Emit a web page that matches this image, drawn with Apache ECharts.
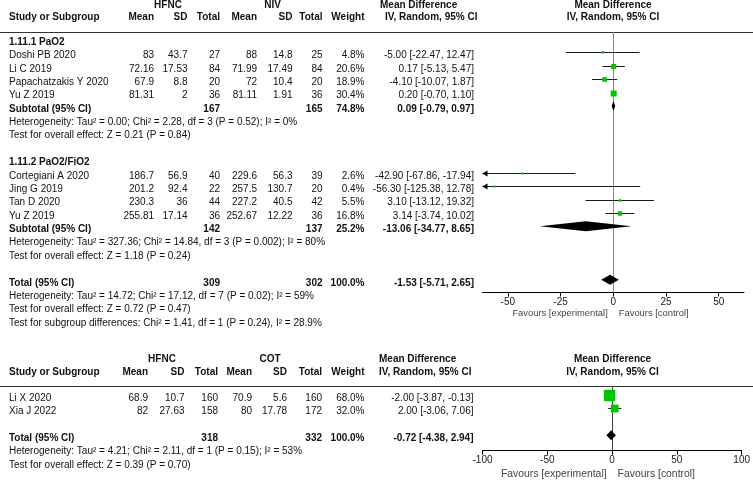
<!DOCTYPE html>
<html><head><meta charset="utf-8">
<script src="https://cdn.jsdelivr.net/npm/echarts@6/dist/echarts.min.js"></script>
<style>html,body{margin:0;padding:0;background:#fff}#c{width:753px;height:480px}</style>
</head><body><div id="c"></div><script>
// ================= DATA =================
// --- Comparison 1: HFNC vs NIV ---
const cmp1Groups = ['HFNC', 'NIV'];
const g1Title = '1.11.1 PaO2';
const g1Studies = ['Doshi PB 2020', 'Li C 2019', 'Papachatzakis Y 2020', 'Yu Z 2019'];
const g1MeanE = [83, 72.16, 67.9, 81.31];
const g1SdE   = [43.7, 17.53, 8.8, 2];
const g1TotE  = [27, 84, 20, 36];
const g1MeanC = [88, 71.99, 72, 81.11];
const g1SdC   = [14.8, 17.49, 10.4, 1.91];
const g1TotC  = [25, 84, 20, 36];
const g1Weight = [4.8, 20.6, 18.9, 30.4];
const g1MD = [-5.00, 0.17, -4.10, 0.20];
const g1Lo = [-22.47, -5.13, -10.07, -0.70];
const g1Hi = [12.47, 5.47, 1.87, 1.10];
const g1Sub = [0.09, -0.79, 0.97];       // md, lo, hi
const g1SubTot = [167, 165];
const g1SubWeight = 74.8;
const g1Het = 'Heterogeneity: Tau² = 0.00; Chi² = 2.28, df = 3 (P = 0.52); I² = 0%';
const g1Test = 'Test for overall effect: Z = 0.21 (P = 0.84)';

const g2Title = '1.11.2 PaO2/FiO2';
const g2Studies = ['Cortegiani A 2020', 'Jing G 2019', 'Tan D 2020', 'Yu Z 2019'];
const g2MeanE = [186.7, 201.2, 230.3, 255.81];
const g2SdE   = [56.9, 92.4, 36, 17.14];
const g2TotE  = [40, 22, 44, 36];
const g2MeanC = [229.6, 257.5, 227.2, 252.67];
const g2SdC   = [56.3, 130.7, 40.5, 12.22];
const g2TotC  = [39, 20, 42, 36];
const g2Weight = [2.6, 0.4, 5.5, 16.8];
const g2MD = [-42.90, -56.30, 3.10, 3.14];
const g2Lo = [-67.86, -125.38, -13.12, -3.74];
const g2Hi = [-17.94, 12.78, 19.32, 10.02];
const g2Sub = [-13.06, -34.77, 8.65];
const g2SubTot = [142, 137];
const g2SubWeight = 25.2;
const g2Het = 'Heterogeneity: Tau² = 327.36; Chi² = 14.84, df = 3 (P = 0.002); I² = 80%';
const g2Test = 'Test for overall effect: Z = 1.18 (P = 0.24)';

const c1Total = [-1.53, -5.71, 2.65];
const c1TotalN = [309, 302];
const c1TotalWeight = 100.0;
const c1Het = 'Heterogeneity: Tau² = 14.72; Chi² = 17.12, df = 7 (P = 0.02); I² = 59%';
const c1Test = 'Test for overall effect: Z = 0.72 (P = 0.47)';
const c1SubDiff = 'Test for subgroup differences: Chi² = 1.41, df = 1 (P = 0.24), I² = 28.9%';
const c1Ticks = [-50, -25, 0, 25, 50];

// --- Comparison 2: HFNC vs COT ---
const cmp2Groups = ['HFNC', 'COT'];
const b1Studies = ['Li X 2020', 'Xia J 2022'];
const b1MeanE = [68.9, 82];
const b1SdE   = [10.7, 27.63];
const b1TotE  = [160, 158];
const b1MeanC = [70.9, 80];
const b1SdC   = [5.6, 17.78];
const b1TotC  = [160, 172];
const b1Weight = [68.0, 32.0];
const b1MD = [-2.00, 2.00];
const b1Lo = [-3.87, -3.06];
const b1Hi = [-0.13, 7.06];
const c2Total = [-0.72, -4.38, 2.94];
const c2TotalN = [318, 332];
const c2TotalWeight = 100.0;
const c2Het = 'Heterogeneity: Tau² = 4.21; Chi² = 2.11, df = 1 (P = 0.15); I² = 53%';
const c2Test = 'Test for overall effect: Z = 0.39 (P = 0.70)';
const c2Ticks = [-100, -50, 0, 50, 100];

const colHeads = ['Mean', 'SD', 'Total', 'Mean', 'SD', 'Total', 'Weight'];
const mdHead1 = 'Mean Difference';
const mdHead2 = 'IV, Random, 95% CI';
const favours = ['Favours [experimental]', 'Favours [control]'];

// ================= LAYOUT / STYLE =================
const FONT = '"Liberation Sans", Arial, Helvetica, sans-serif';
const TXT = '#111';
const GREEN = '#00c800';
const L1 = { gridTop: 32, gridH: 260.5, left: 482.5, width: 261.5, xMin: -62, xMax: 62, first: 7, rowH: 13.38,
  cols: [154, 187.5, 220, 257, 292.5, 322.5, 364.5], mdX: 474, grpX: [168, 272.5],
  head1Y: 5, head2Y: 17.5, mdHeadX: [380, 385], plotHeadX: 613, sq: 1.09, favY: 313.5, favSize: 9.4, tickSize: 10 };
const L2 = { gridTop: 386, gridH: 64.7, left: 482.5, width: 260, xMin: -100, xMax: 100, first: 9, rowH: 13.4,
  cols: [148, 184.5, 218, 252, 287, 322, 364.5], mdX: 473.5, grpX: [162, 270],
  head1Y: 359, head2Y: 372, mdHeadX: [379, 379], plotHeadX: 612.5, sq: 1.38, favY: 474, favSize: 10.4, tickSize: 10 };

// ---- build row structures (row index = order in table) ----
function studyRows(names, mE, sE, tE, mC, sC, tC, w, md, lo, hi) {
  return names.map((n, i) => ({ kind: 'study', name: n, cells: [mE[i], sE[i], tE[i], mC[i], sC[i], tC[i]], w: w[i], eff: [md[i], lo[i], hi[i]] }));
}
const rows1 = [].concat(
  [{ kind: 'title', text: g1Title }],
  studyRows(g1Studies, g1MeanE, g1SdE, g1TotE, g1MeanC, g1SdC, g1TotC, g1Weight, g1MD, g1Lo, g1Hi),
  [{ kind: 'sum', name: 'Subtotal (95% CI)', n: g1SubTot, w: g1SubWeight, eff: g1Sub },
   { kind: 'note', text: g1Het }, { kind: 'note', text: g1Test }, { kind: 'blank' },
   { kind: 'title', text: g2Title }],
  studyRows(g2Studies, g2MeanE, g2SdE, g2TotE, g2MeanC, g2SdC, g2TotC, g2Weight, g2MD, g2Lo, g2Hi),
  [{ kind: 'sum', name: 'Subtotal (95% CI)', n: g2SubTot, w: g2SubWeight, eff: g2Sub },
   { kind: 'note', text: g2Het }, { kind: 'note', text: g2Test }, { kind: 'blank' },
   { kind: 'sum', name: 'Total (95% CI)', n: c1TotalN, w: c1TotalWeight, eff: c1Total },
   { kind: 'note', text: c1Het }, { kind: 'note', text: c1Test }, { kind: 'note', text: c1SubDiff }]
);
const rows2 = [].concat(
  studyRows(b1Studies, b1MeanE, b1SdE, b1TotE, b1MeanC, b1SdC, b1TotC, b1Weight, b1MD, b1Lo, b1Hi),
  [{ kind: 'blank' },
   { kind: 'sum', name: 'Total (95% CI)', n: c2TotalN, w: c2TotalWeight, eff: c2Total },
   { kind: 'note', text: c2Het }, { kind: 'note', text: c2Test }]
);

function studyData(rows) { const d = []; rows.forEach((r, i) => { if (r.kind === 'study') d.push([r.eff[0], r.eff[1], r.eff[2], i, r.w]); }); return d; }
function sumData(rows) { const d = []; rows.forEach((r, i) => { if (r.kind === 'sum') d.push([r.eff[0], r.eff[1], r.eff[2], i]); }); return d; }

function studyRenderer(k) {
  return function (params, api) {
    const md = api.value(0), lo = api.value(1), hi = api.value(2), row = api.value(3), w = api.value(4);
    const cs = params.coordSys;
    const pm = api.coord([md, row]);
    const pl = api.coord([lo, row]);
    const ph = api.coord([hi, row]);
    const y = Math.round(pm[1]) + 0.5;
    const xl = Math.max(pl[0], cs.x), xr = Math.min(ph[0], cs.x + cs.width);
    const ch = [{ type: 'line', shape: { x1: xl, y1: y, x2: xr, y2: y }, style: { stroke: '#1a1a1a', lineWidth: 1 } }];
    if (pl[0] < cs.x) ch.push({ type: 'polygon', shape: { points: [[cs.x, y], [cs.x + 5, y - 3], [cs.x + 5, y + 3]] }, style: { fill: '#000' } });
    if (ph[0] > cs.x + cs.width) { const e = cs.x + cs.width; ch.push({ type: 'polygon', shape: { points: [[e, y], [e - 5, y - 3], [e - 5, y + 3]] }, style: { fill: '#000' } }); }
    const s = Math.max(2, k * Math.sqrt(w));
    ch.push({ type: 'rect', shape: { x: pm[0] - s / 2, y: y - s / 2, width: s, height: s }, style: { fill: GREEN } });
    return { type: 'group', children: ch };
  };
}
function diamondRenderer(h) {
  return function (params, api) {
    const row = api.value(3);
    const pm = api.coord([api.value(0), row]);
    const pl = api.coord([api.value(1), row]);
    const ph = api.coord([api.value(2), row]);
    const y = pm[1];
    return { type: 'polygon', shape: { points: [[pl[0], y], [pm[0], y - h / 2], [ph[0], y], [pm[0], y + h / 2]] }, style: { fill: '#000' } };
  };
}

function axisSet(L, gi, ticks) {
  return {
    x: { gridIndex: gi, type: 'value', min: L.xMin, max: L.xMax, position: 'bottom',
      axisLine: { onZero: false, lineStyle: { color: '#000', width: 1 } },
      axisTick: { show: true, customValues: ticks, length: 4, lineStyle: { color: '#000' } },
      axisLabel: { customValues: ticks, fontSize: L.tickSize, color: '#1a1a1a', margin: 5, fontFamily: FONT },
      splitLine: { show: false } },
    y: { gridIndex: gi, type: 'value', inverse: true, show: false,
      min: -L.first / L.rowH, max: (L.gridH - L.first) / L.rowH }
  };
}
const a1 = axisSet(L1, 0, c1Ticks), a2 = axisSet(L2, 1, c2Ticks);

const option = {
  animation: false,
  grid: [
    { left: L1.left, top: L1.gridTop, width: L1.width, height: L1.gridH },
    { left: L2.left, top: L2.gridTop, width: L2.width, height: L2.gridH }
  ],
  xAxis: [a1.x, a2.x],
  yAxis: [a1.y, a2.y],
  series: [
    { type: 'custom', xAxisIndex: 0, yAxisIndex: 0, renderItem: studyRenderer(L1.sq), data: studyData(rows1),
      encode: { x: [0, 1, 2], y: 3 }, z: 3,
      markLine: { silent: true, symbol: ['none', 'none'], label: { show: false }, lineStyle: { color: '#8a8a8a', width: 1, type: 'solid' }, data: [{ xAxis: 0 }], z: 1 } },
    { type: 'custom', xAxisIndex: 0, yAxisIndex: 0, renderItem: diamondRenderer(10), data: sumData(rows1), encode: { x: [0, 1, 2], y: 3 }, z: 3 },
    { type: 'custom', xAxisIndex: 1, yAxisIndex: 1, renderItem: studyRenderer(L2.sq), data: studyData(rows2),
      encode: { x: [0, 1, 2], y: 3 }, z: 3,
      markLine: { silent: true, symbol: ['none', 'none'], label: { show: false }, lineStyle: { color: '#444', width: 1, type: 'solid' }, data: [{ xAxis: 0 }], z: 1 } },
    { type: 'custom', xAxisIndex: 1, yAxisIndex: 1, renderItem: diamondRenderer(10), data: sumData(rows2), encode: { x: [0, 1, 2], y: 3 }, z: 3 }
  ]
};
const chart = echarts.init(document.getElementById('c'), null, { renderer: 'canvas' });
chart.setOption(option);

// ---- table text, placed on the rows of the chart's own y scales ----
function txt(x, y, text, o) {
  o = o || {};
  const al = o.align || 'left';
  return { type: 'text', silent: true, x: x, y: y, z: 10,
    style: { text: String(text), fill: o.fill || TXT, fontSize: o.size || 10, fontWeight: o.bold ? 'bold' : 'normal',
      fontFamily: FONT, align: al, verticalAlign: 'middle', textAlign: al, textVerticalAlign: 'middle' } };
}
function ci(e) { return e[0].toFixed(2) + ' [' + e[1].toFixed(2) + ', ' + e[2].toFixed(2) + ']'; }

const G = [];
function buildTable(L, gi, rows, groups) {
  G.push(txt(L.grpX[0], L.head1Y, groups[0], { bold: true, align: 'center' }));
  G.push(txt(L.grpX[1], L.head1Y, groups[1], { bold: true, align: 'center' }));
  G.push(txt(9, L.head2Y, 'Study or Subgroup', { bold: true }));
  colHeads.forEach((h, i) => G.push(txt(L.cols[i], L.head2Y, h, { bold: true, align: 'right' })));
  G.push(txt(L.mdHeadX[0], L.head1Y, mdHead1, { bold: true }));
  G.push(txt(L.mdHeadX[1], L.head2Y, mdHead2, { bold: true }));
  G.push(txt(L.plotHeadX, L.head1Y, mdHead1, { bold: true, align: 'center' }));
  G.push(txt(L.plotHeadX, L.head2Y, mdHead2, { bold: true, align: 'center' }));
  G.push({ type: 'line', silent: true, shape: { x1: 0, y1: L.gridTop + 0.5, x2: 753, y2: L.gridTop + 0.5 }, style: { stroke: '#333', lineWidth: 1.2 } });
  rows.forEach((r, i) => {
    const y = chart.convertToPixel({ gridIndex: gi }, [0, i])[1] + 3;
    if (r.kind === 'title') G.push(txt(9, y, r.text, { bold: true }));
    else if (r.kind === 'note') G.push(txt(9, y, r.text));
    else if (r.kind === 'study') {
      G.push(txt(9, y, r.name));
      r.cells.forEach((c, j) => G.push(txt(L.cols[j], y, c, { align: 'right' })));
      G.push(txt(L.cols[6], y, r.w.toFixed(1) + '%', { align: 'right' }));
      G.push(txt(L.mdX, y, ci(r.eff), { align: 'right' }));
    } else if (r.kind === 'sum') {
      G.push(txt(9, y, r.name, { bold: true }));
      G.push(txt(L.cols[2], y, r.n[0], { bold: true, align: 'right' }));
      G.push(txt(L.cols[5], y, r.n[1], { bold: true, align: 'right' }));
      G.push(txt(L.cols[6], y, r.w.toFixed(1) + '%', { bold: true, align: 'right' }));
      G.push(txt(L.mdX, y, ci(r.eff), { bold: true, align: 'right' }));
    }
  });
  const zx = chart.convertToPixel({ gridIndex: gi }, [0, 0])[0];
  G.push(txt(zx - 5.5, L.favY, favours[0], { align: 'right', fill: '#444', size: L.favSize }));
  G.push(txt(zx + 5.5, L.favY, favours[1], { align: 'left', fill: '#444', size: L.favSize }));
}
buildTable(L1, 0, rows1, cmp1Groups);
buildTable(L2, 1, rows2, cmp2Groups);
chart.setOption({ graphic: G });
</script></body></html>
